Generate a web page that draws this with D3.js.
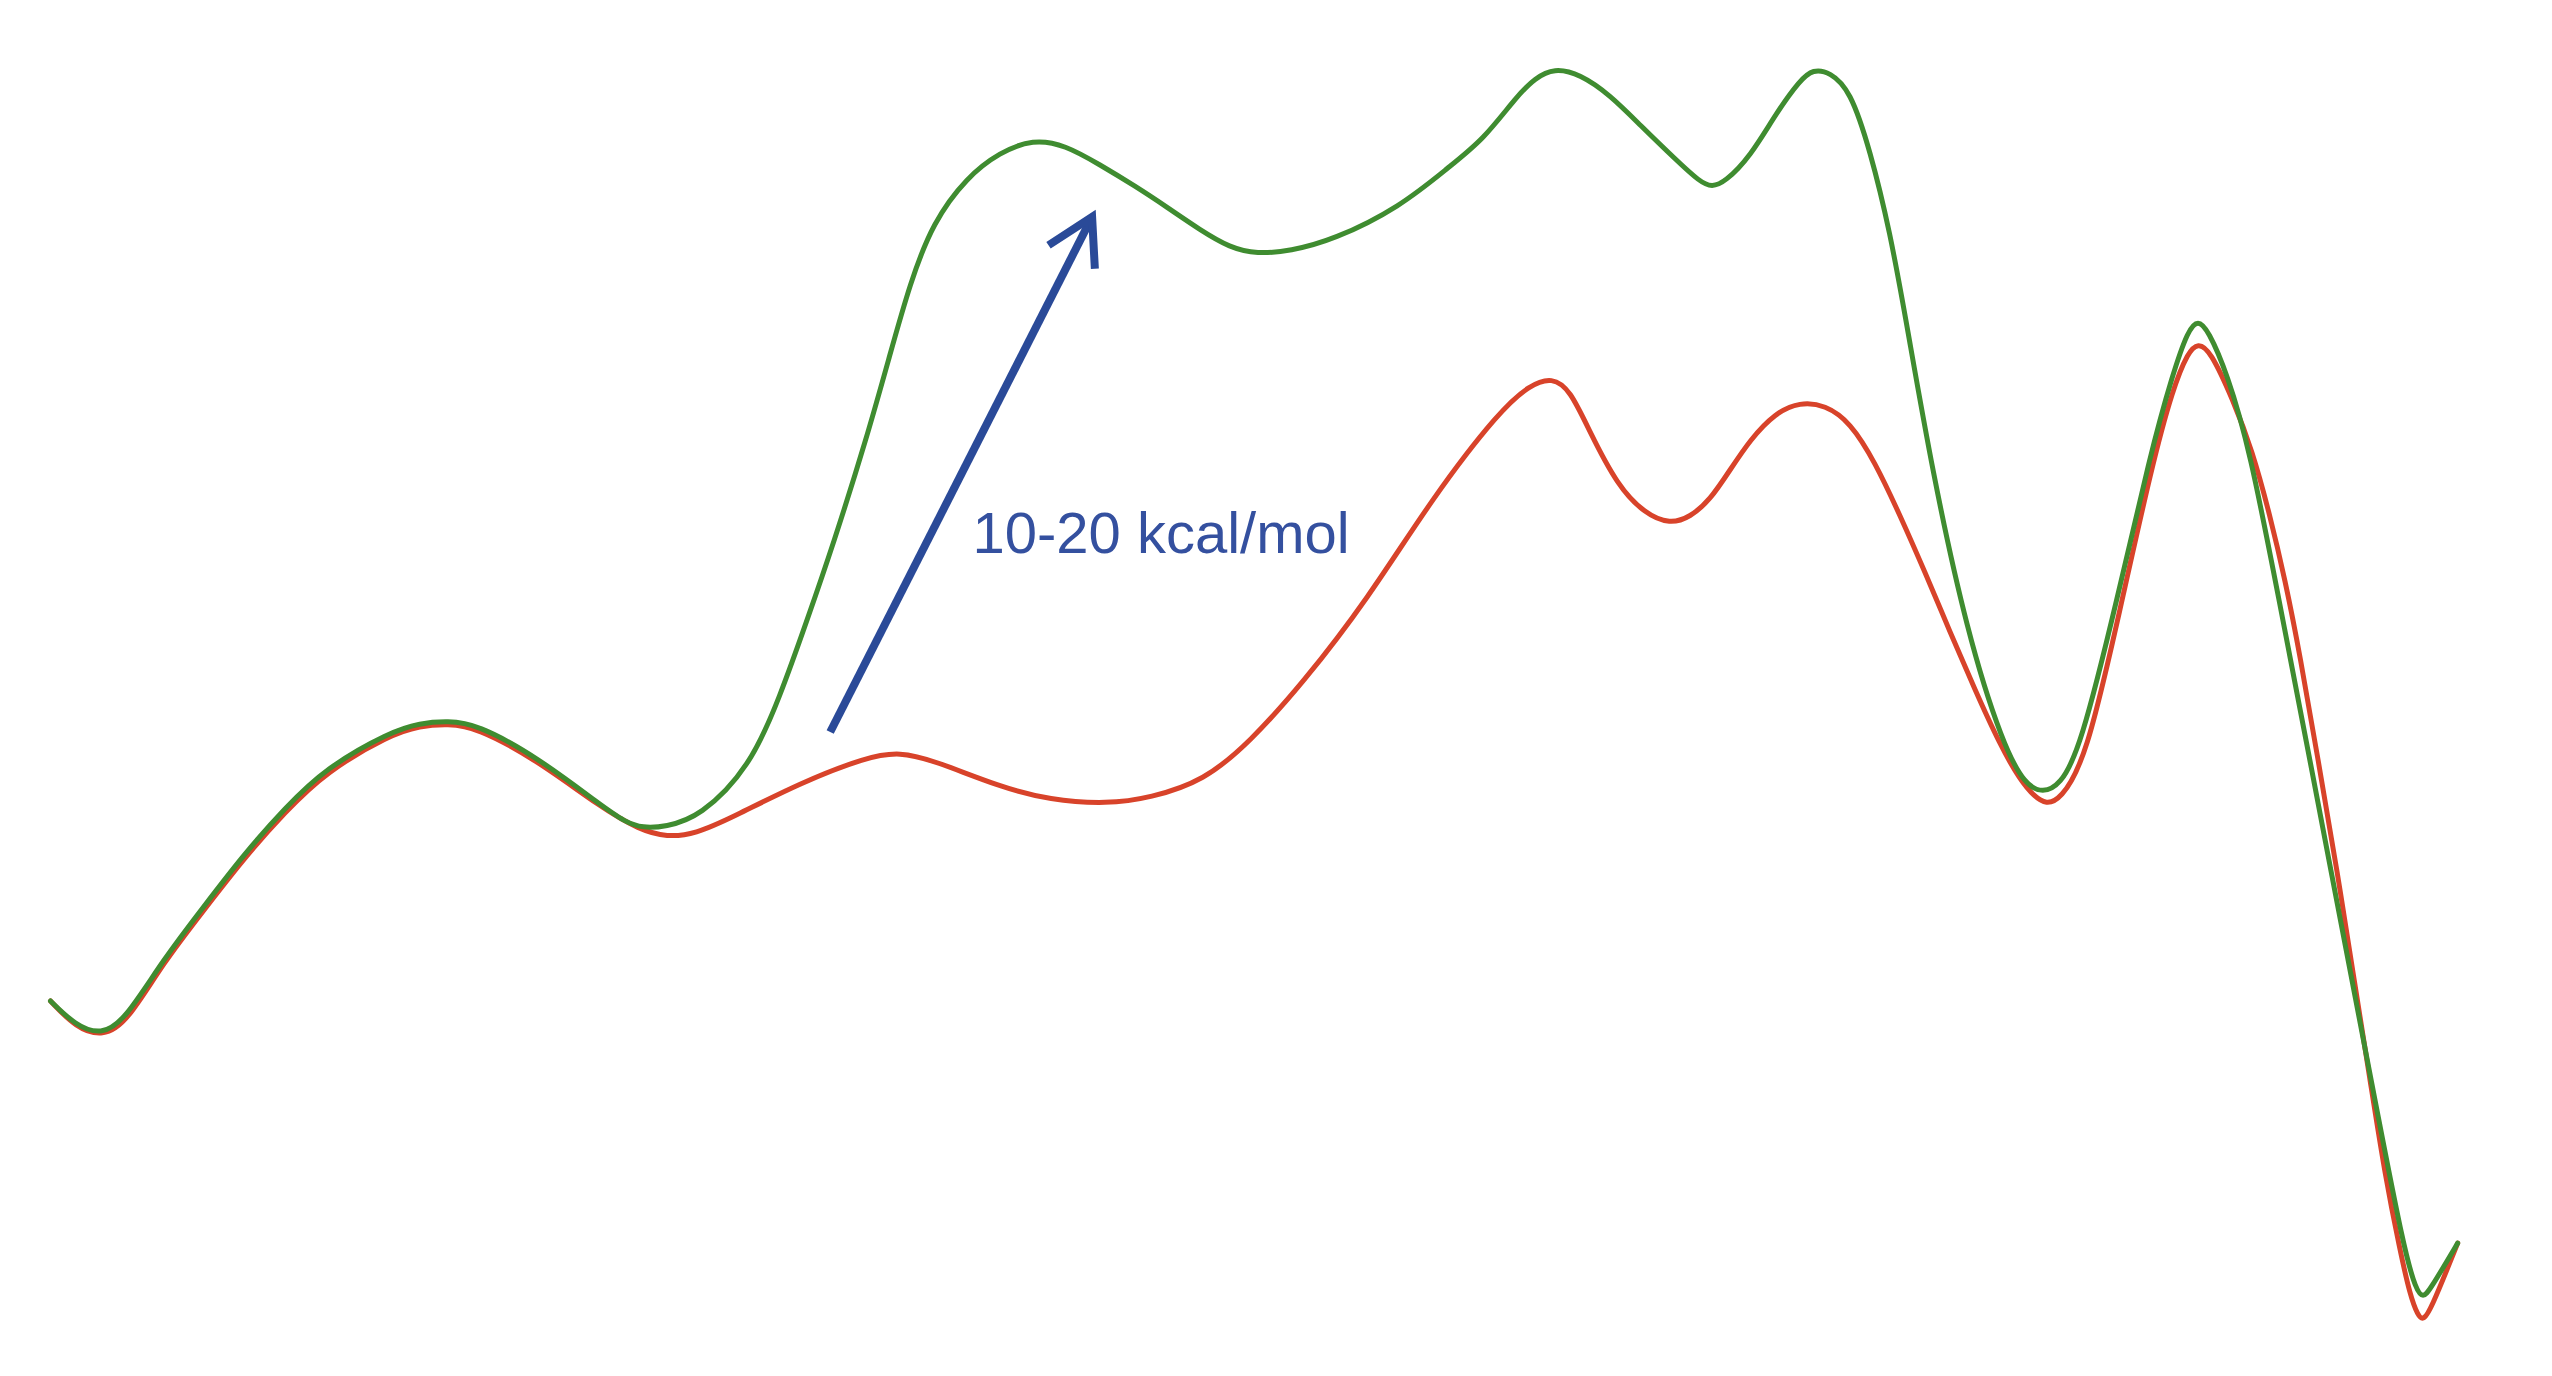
<!DOCTYPE html>
<html><head><meta charset="utf-8">
<script src="https://cdn.jsdelivr.net/npm/d3@7"></script>
<style>html,body{margin:0;padding:0;background:#fff;}svg{display:block;}</style>
</head><body>
<svg id="chart" width="2552" height="1376"></svg>
<script>
// Reaction coordinate (0-100) and relative energy (kcal/mol, zero at start)
const greenX = [0, 1.02, 2.10, 3.09, 4.67, 6.38, 8.04, 9.74, 11.44, 14.10, 15.35, 16.51, 17.68, 20.21, 22.91, 23.87, 24.61, 25.53, 26.98, 29.06, 30.30, 31.43, 32.51, 33.92, 34.87, 35.71, 36.66, 38.07, 39.44, 40.82, 42.14, 43.60, 45.05, 46.38, 47.75, 49.00, 50.12, 51.49, 53.28, 56.06, 58.14, 59.51, 60.92, 61.67, 62.46, 63.54, 64.78, 66.03, 67.53, 68.52, 69.02, 69.56, 70.60, 71.72, 72.68, 73.22, 73.92, 74.76, 75.59, 76.42, 77.12, 78.16, 79.62, 81.11, 82.03, 82.77, 83.48, 84.31, 85.85, 87.22, 88.17, 88.80, 89.21, 89.63, 90.42, 91.37, 92.58, 93.78, 94.57, 96.56, 97.77, 98.27, 98.56, 98.85, 100];
const greenE = [0, -0.59, -0.84, -0.47, 1.01, 2.33, 3.61, 4.74, 5.73, 6.61, 6.83, 6.88, 6.81, 6.00, 4.79, 4.40, 4.25, 4.28, 4.52, 5.75, 7.47, 9.36, 11.21, 13.86, 15.88, 17.65, 19.14, 20.25, 20.86, 21.18, 21.04, 20.55, 20.03, 19.51, 18.95, 18.51, 18.36, 18.43, 18.70, 19.51, 20.52, 21.16, 22.24, 22.68, 22.93, 22.78, 22.27, 21.53, 20.67, 20.13, 20.00, 20.13, 20.74, 21.85, 22.63, 22.90, 22.83, 22.39, 20.91, 18.90, 16.61, 13.05, 9.04, 6.29, 5.31, 5.11, 5.31, 6.17, 9.85, 13.42, 15.43, 16.49, 16.74, 16.49, 15.43, 13.54, 9.85, 6.17, 3.71, -2.43, -6.12, -7.10, -7.30, -7.10, -5.95];
const redX = [0, 1.06, 2.18, 3.18, 4.67, 6.38, 8.04, 9.74, 11.44, 14.10, 15.35, 16.51, 17.68, 20.21, 22.83, 24.49, 25.61, 26.77, 28.35, 31.14, 33.92, 35.29, 36.66, 39.44, 41.52, 43.89, 45.68, 47.92, 49.83, 51.99, 54.69, 57.43, 60.22, 61.46, 62.38, 63.13, 63.95, 65.08, 66.24, 67.28, 68.11, 68.94, 69.77, 70.60, 71.64, 72.68, 73.72, 74.76, 75.79, 76.83, 77.87, 78.91, 79.95, 80.99, 81.82, 82.44, 82.90, 83.48, 84.56, 85.97, 87.30, 88.17, 88.80, 89.21, 89.71, 90.67, 91.46, 92.20, 92.83, 93.45, 94.20, 94.99, 95.73, 96.36, 96.98, 97.60, 98.02, 98.35, 98.56, 98.85, 100];
const redE = [0, -0.66, -0.88, -0.52, 0.93, 2.24, 3.51, 4.64, 5.63, 6.54, 6.76, 6.81, 6.73, 5.92, 4.77, 4.20, 4.03, 4.10, 4.52, 5.36, 6.00, 6.12, 5.92, 5.26, 4.94, 4.84, 4.99, 5.41, 6.37, 7.79, 9.85, 12.39, 14.52, 15.14, 15.33, 15.02, 13.98, 12.68, 11.97, 11.72, 11.89, 12.31, 13.05, 13.79, 14.45, 14.72, 14.65, 14.23, 13.25, 11.94, 10.54, 9.07, 7.64, 6.29, 5.43, 5.01, 4.84, 4.94, 5.92, 9.61, 13.17, 15.06, 15.95, 16.17, 16.00, 14.77, 13.54, 11.94, 10.35, 8.50, 5.92, 3.22, 0.39, -1.94, -4.28, -6.12, -7.23, -7.74, -7.84, -7.64, -5.95];
const arrowFrom = [32.39, 6.61];
const arrowTo = [43.27, 19.27];
const labelText = "10-20 kcal/mol";
const labelPos = [38.3, 11.0];

const svg = d3.select("#chart");
const x = d3.scaleLinear().domain([0, 100]).range([50.5, 2457.7]);
const y = d3.scaleLinear().domain([0, 20]).range([1001, 1001 - 20 * 40.69]);

const line = d3.line().x(d => x(d[0])).y(d => y(d[1])).curve(d3.curveBasis);

svg.append("path")
  .datum(d3.zip(redX, redE))
  .attr("d", line)
  .attr("fill", "none")
  .attr("stroke", "#d8432a")
  .attr("stroke-width", 5)
  .attr("stroke-linecap", "round")
  .attr("stroke-linejoin", "round");

svg.append("path")
  .datum(d3.zip(greenX, greenE))
  .attr("d", line)
  .attr("fill", "none")
  .attr("stroke", "#3f8c30")
  .attr("stroke-width", 5)
  .attr("stroke-linecap", "round")
  .attr("stroke-linejoin", "round");

// Arrow
const ax0 = x(arrowFrom[0]), ay0 = y(arrowFrom[1]);
const ax1 = x(arrowTo[0]), ay1 = y(arrowTo[1]);
const ang = Math.atan2(ay0 - ay1, ax0 - ax1);
const headLen = 52, spread = 30 * Math.PI / 180;
const arrowColor = "#2a4a98";
svg.append("line")
  .attr("x1", ax0).attr("y1", ay0).attr("x2", ax1).attr("y2", ay1)
  .attr("stroke", arrowColor).attr("stroke-width", 8);
svg.append("path")
  .attr("d", `M${ax1 + headLen * Math.cos(ang - spread)},${ay1 + headLen * Math.sin(ang - spread)}L${ax1},${ay1}L${ax1 + headLen * Math.cos(ang + spread)},${ay1 + headLen * Math.sin(ang + spread)}`)
  .attr("fill", "none")
  .attr("stroke", arrowColor).attr("stroke-width", 8)
  .attr("stroke-linejoin", "miter");

svg.append("text")
  .attr("x", x(labelPos[0])).attr("y", y(labelPos[1]))
  .attr("font-family", "Liberation Sans, Arial, sans-serif")
  .attr("font-size", 58)
  .attr("fill", "#34509f")
  .text(labelText);
</script>
</body></html>
